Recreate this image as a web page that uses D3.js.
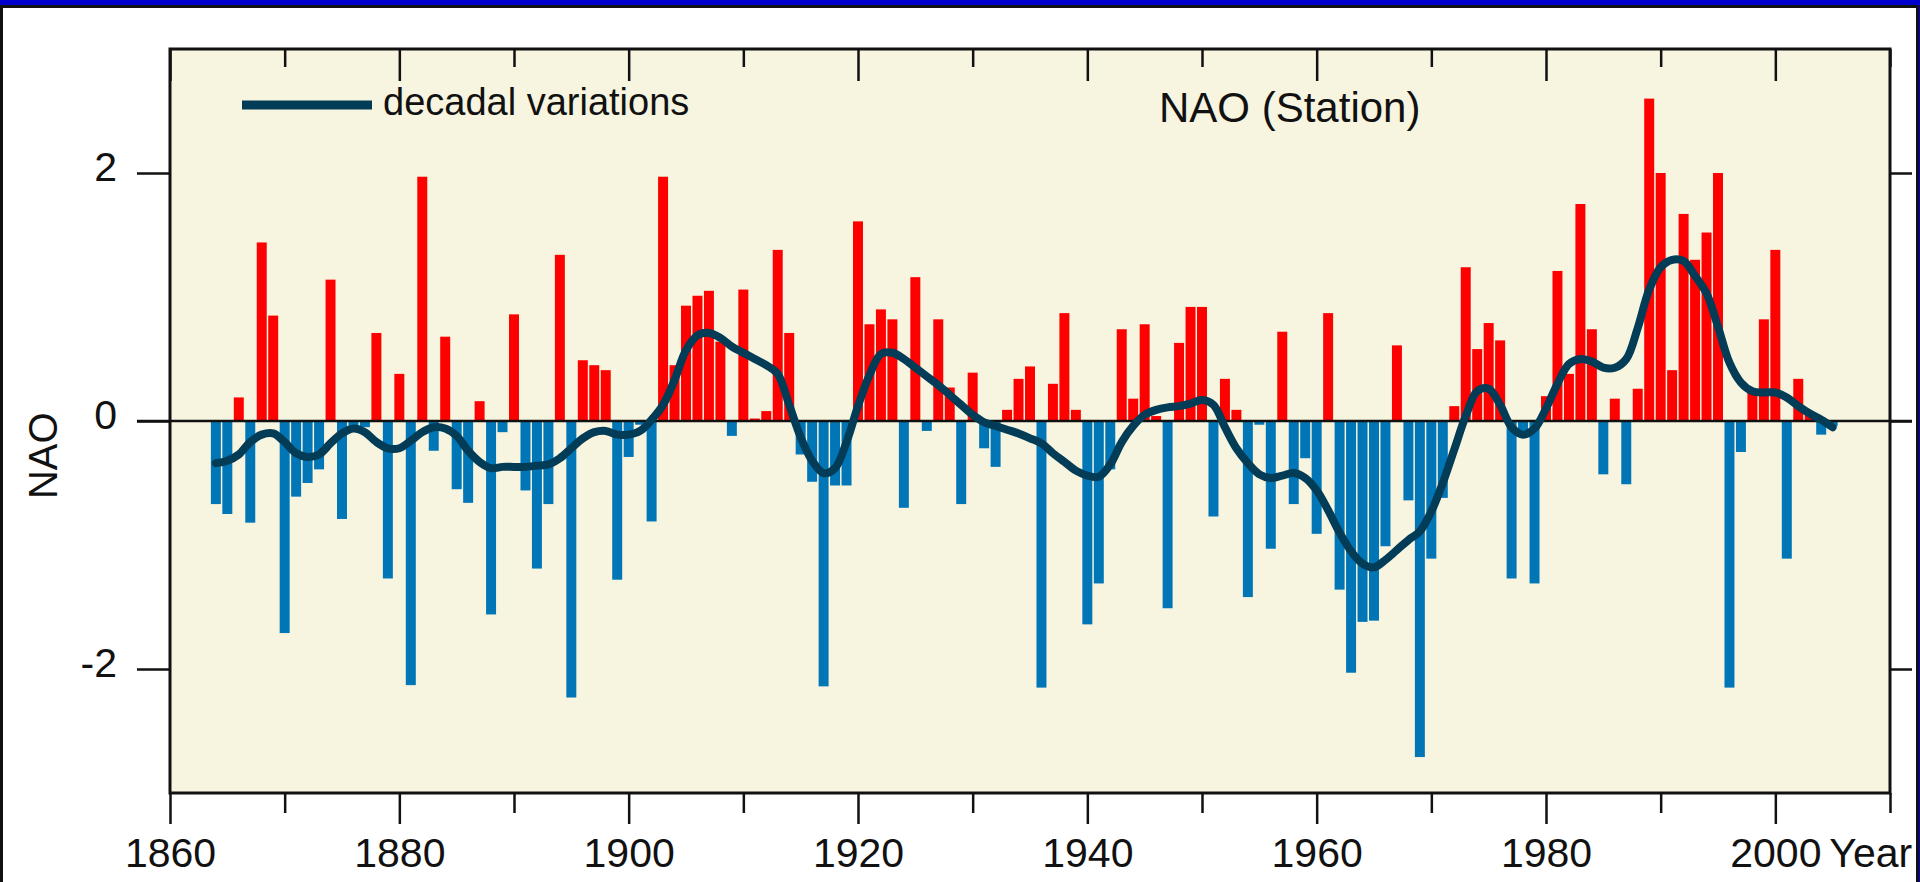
<!DOCTYPE html>
<meta charset="utf-8">
<style>

body {
  margin: 0;
  background: #0000cc;
  overflow: hidden;
}

text {
  font-family: "Liberation Sans", Arial, sans-serif;
  fill: #111;
}

.posbar { fill: #ff0000; }
.negbar { fill: #0076b6; }

.decadal {
  fill: none;
  stroke: #033c57;
  stroke-width: 8px;
  stroke-linecap: round;
  stroke-linejoin: round;
}

.axis path { display: none; }
.axis line { stroke: #111; stroke-width: 2.5px; }
.axis text { font-size: 41px; fill: #111; }

</style>
<body>

<svg id="graph"></svg>

<script src="https://d3js.org/d3.v7.min.js"></script>
<script>

// winter NAO index, one bar per year
var years = [
  1864, 1865, 1866, 1867, 1868, 1869, 1870, 1871, 1872, 1873,
  1874, 1875, 1876, 1877, 1878, 1879, 1880, 1881, 1882, 1883,
  1884, 1885, 1886, 1887, 1888, 1889, 1890, 1891, 1892, 1893,
  1894, 1895, 1896, 1897, 1898, 1899, 1900, 1901, 1902, 1903,
  1904, 1905, 1906, 1907, 1908, 1909, 1910, 1911, 1912, 1913,
  1914, 1915, 1916, 1917, 1918, 1919, 1920, 1921, 1922, 1923,
  1924, 1925, 1926, 1927, 1928, 1929, 1930, 1931, 1932, 1933,
  1934, 1935, 1936, 1937, 1938, 1939, 1940, 1941, 1942, 1943,
  1944, 1945, 1946, 1947, 1948, 1949, 1950, 1951, 1952, 1953,
  1954, 1955, 1956, 1957, 1958, 1959, 1960, 1961, 1962, 1963,
  1964, 1965, 1966, 1967, 1968, 1969, 1970, 1971, 1972, 1973,
  1974, 1975, 1976, 1977, 1978, 1979, 1980, 1981, 1982, 1983,
  1984, 1985, 1986, 1987, 1988, 1989, 1990, 1991, 1992, 1993,
  1994, 1995, 1996, 1997, 1998, 1999, 2000, 2001, 2002, 2003,
  2004, 2005
];

var naoValues = [
  -0.67, -0.75,  0.19, -0.82,  1.44,  0.85, -1.71, -0.61, -0.50, -0.39,
   1.14, -0.79, -0.06, -0.05,  0.71, -1.27,  0.38, -2.13,  1.97, -0.24,
   0.68, -0.55, -0.66,  0.16, -1.56, -0.09,  0.86, -0.56, -1.19, -0.67,
   1.34, -2.23,  0.49,  0.45,  0.41, -1.28, -0.29, -0.03, -0.81,  1.97,
   0.45,  0.93,  1.01,  1.05,  0.64, -0.12,  1.06,  0.02,  0.08,  1.38,
   0.71, -0.27, -0.49, -2.14, -0.52, -0.52,  1.61,  0.78,  0.90,  0.82,
  -0.70,  1.16, -0.08,  0.82,  0.27, -0.67,  0.39, -0.22, -0.37,  0.09,
   0.34,  0.44, -2.15,  0.30,  0.87,  0.09, -1.64, -1.31, -0.39,  0.74,
   0.18,  0.78,  0.04, -1.51,  0.63,  0.92,  0.92, -0.77,  0.34,  0.09,
  -1.42, -0.03, -1.03,  0.72, -0.67, -0.30, -0.91,  0.87, -1.36, -2.03,
  -1.62, -1.61, -1.01,  0.61, -0.64, -2.71, -1.11, -0.62,  0.12,  1.24,
   0.58,  0.79,  0.65, -1.27, -0.08, -1.31,  0.20,  1.21,  0.38,  1.75,
   0.74, -0.43,  0.18, -0.51,  0.26,  2.60,  2.00,  0.41,  1.67,  1.30,
   1.52,  2.00, -2.15, -0.25,  0.26,  0.82,  1.38, -1.11,  0.34,  0.06,
  -0.11, -0.04
];

var decadalValues = [
  -0.34, -0.32, -0.27, -0.17, -0.11, -0.10, -0.17, -0.26, -0.29, -0.27,
  -0.18, -0.10, -0.06, -0.09, -0.17, -0.22, -0.22, -0.16, -0.09, -0.05,
  -0.06, -0.12, -0.24, -0.33, -0.38, -0.37, -0.37, -0.37, -0.36, -0.35,
  -0.30, -0.22, -0.14, -0.09, -0.08, -0.11, -0.11, -0.08,  0.01,  0.13,
   0.33,  0.57,  0.69,  0.71,  0.67,  0.60,  0.55,  0.50,  0.45,  0.38,
   0.13, -0.13, -0.32, -0.42, -0.38, -0.17,  0.12,  0.37,  0.54,  0.55,
   0.50,  0.43,  0.36,  0.29,  0.21,  0.13,  0.05, -0.01, -0.04, -0.07,
  -0.10, -0.14, -0.18, -0.26, -0.33, -0.40, -0.44, -0.45, -0.35, -0.17,
  -0.04,  0.05,  0.09,  0.11,  0.12,  0.14,  0.17,  0.13, -0.05, -0.22,
  -0.34, -0.43, -0.46, -0.44, -0.42, -0.46, -0.56, -0.72, -0.90, -1.05,
  -1.15, -1.18, -1.12, -1.04, -0.96, -0.89, -0.73, -0.50, -0.23,  0.04,
   0.24,  0.26,  0.13, -0.05, -0.11, -0.06,  0.10,  0.30,  0.46,  0.50,
   0.48,  0.43,  0.43,  0.50,  0.75,  1.06,  1.24,  1.30,  1.29,  1.17,
   1.03,  0.76,  0.47,  0.31,  0.24,  0.23,  0.23,  0.19,  0.12,  0.06,
   0.01, -0.05
];

var xMajorTicks = [1860, 1880, 1900, 1920, 1940, 1960, 1980, 2000];
var xMajorLabels = ["1860", "1880", "1900", "1920", "1940", "1960", "1980", "2000"];
var xMinorTicks = [1870, 1890, 1910, 1930, 1950, 1970, 1990, 2010];
var yTicks = [-2, 0, 2];
var yTickLabels = ["-2", "0", "2"];

var data = years.map(function(yr, i) {
  return {year: yr, value: naoValues[i], decadal: decadalValues[i]};
});

// set the dimensions and margins of the graph
var fullWidth = 1920,
    fullHeight = 882;
var margin = {top: 49, right: 30, bottom: 89, left: 170},
    width = fullWidth - margin.left - margin.right,
    height = fullHeight - margin.top - margin.bottom;

// set the ranges
var x = d3.scaleLinear().domain([1860, 2010]).range([0, width]);
var y = d3.scaleLinear().domain([-3, 3]).range([height, 0]);

var barWidth = (x(1861) - x(1860)) * 0.87;

var svgRoot = d3.select("#graph")
    .attr("width", fullWidth)
    .attr("height", fullHeight);

// white slide panel under the blue top band
svgRoot.append("rect")
    .attr("x", 1.5)
    .attr("y", 6.5)
    .attr("width", fullWidth - 4)
    .attr("height", fullHeight)
    .style("fill", "#ffffff")
    .style("stroke", "#111")
    .style("stroke-width", 3);

var svg = svgRoot.append("g")
    .attr("transform", "translate(" + margin.left + "," + margin.top + ")");

// plot background
svg.append("rect")
    .attr("width", width)
    .attr("height", height)
    .style("fill", "#f7f4df");

// Add the bars
svg.selectAll(".bar")
    .data(data)
  .enter().append("rect")
    .attr("class", function(d) { return d.value >= 0 ? "posbar" : "negbar"; })
    .attr("x", function(d) { return x(d.year) - barWidth / 2; })
    .attr("width", barWidth)
    .attr("y", function(d) { return y(Math.max(0, d.value)); })
    .attr("height", function(d) { return Math.abs(y(d.value) - y(0)); });

// zero line, running out through both side ticks
svg.append("line")
    .attr("x1", -33)
    .attr("x2", width + 22)
    .attr("y1", y(0))
    .attr("y2", y(0))
    .style("stroke", "#111")
    .style("stroke-width", 2.5);

// decadal curve
var decadalLine = d3.line()
    .x(function(d) { return x(d.year); })
    .y(function(d) { return y(d.decadal); })
    .curve(d3.curveCatmullRom.alpha(0.5));

svg.append("path")
    .datum(data)
    .attr("class", "decadal")
    .attr("d", decadalLine);

// Add the X Axis (outside ticks below, inside ticks on top)
svg.append("g")
    .attr("class", "axis")
    .attr("transform", "translate(0," + height + ")")
    .call(d3.axisBottom(x).tickValues(xMajorTicks).tickSize(31).tickPadding(14)
      .tickFormat(function(d, i) { return xMajorLabels[i]; }));

svg.append("g")
    .attr("class", "axis")
    .attr("transform", "translate(0," + height + ")")
    .call(d3.axisBottom(x).tickValues(xMinorTicks).tickSize(20).tickFormat(""));

svg.append("g")
    .attr("class", "axis")
    .call(d3.axisTop(x).tickValues(xMajorTicks).tickSize(-32).tickFormat(""));

svg.append("g")
    .attr("class", "axis")
    .call(d3.axisTop(x).tickValues(xMinorTicks).tickSize(-18).tickFormat(""));

// Add the Y Axis
var yAxisG = svg.append("g")
    .attr("class", "axis")
    .call(d3.axisLeft(y).tickValues(yTicks).tickSize(33).tickPadding(20)
      .tickFormat(function(d, i) { return yTickLabels[i]; }));
yAxisG.selectAll("text").attr("dy", "0.18em");

svg.append("g")
    .attr("class", "axis")
    .attr("transform", "translate(" + width + ",0)")
    .call(d3.axisRight(y).tickValues(yTicks).tickSize(22).tickFormat(""));

// plot frame
svg.append("rect")
    .attr("width", width)
    .attr("height", height)
    .style("fill", "none")
    .style("stroke", "#111")
    .style("stroke-width", 3);

// X axis label
svg.append("text")
    .attr("x", x(2000) + 54)
    .attr("y", height + 74)
    .style("font-size", "41px")
    .text("Year");

// Y axis label
svgRoot.append("text")
    .attr("transform", "translate(57," + (margin.top + y(-0.28)) + ") rotate(-90)")
    .attr("text-anchor", "middle")
    .style("font-size", "40px")
    .text("NAO");

// Title
svg.append("text")
    .attr("x", 989)
    .attr("y", 73)
    .style("font-size", "42px")
    .text("NAO (Station)");

// legend
svg.append("line")
    .attr("x1", 72)
    .attr("x2", 202)
    .attr("y1", 56)
    .attr("y2", 56)
    .style("stroke", "#033c57")
    .style("stroke-width", 9);

svg.append("text")
    .attr("x", 213)
    .attr("y", 66)
    .style("font-size", "38px")
    .text("decadal variations");

</script>
</body>
